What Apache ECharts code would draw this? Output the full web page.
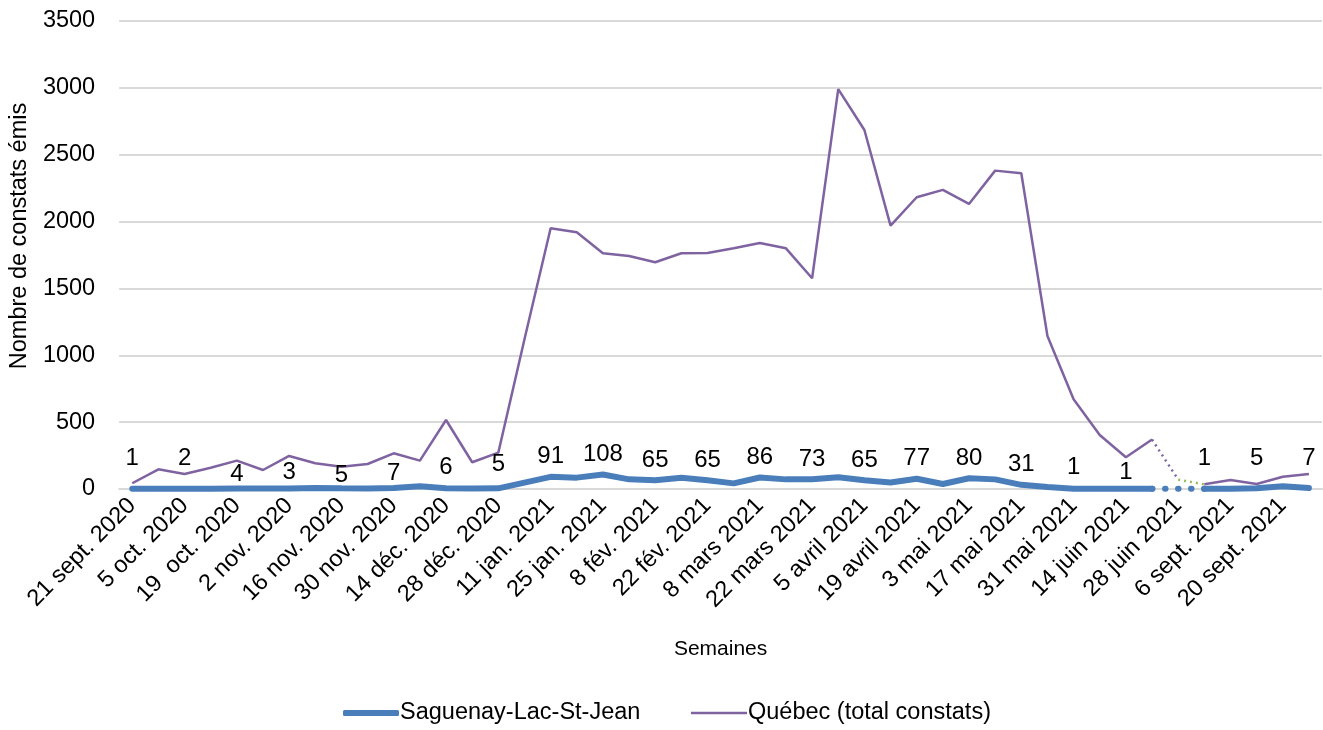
<!DOCTYPE html>
<html><head><meta charset="utf-8">
<script src="https://cdn.jsdelivr.net/npm/echarts@6/dist/echarts.min.js"></script>
<style>html,body{margin:0;padding:0;background:#fff}#c{width:1323px;height:730px}</style>
</head><body><div id="c"></div>
<script>
const weeks = ["21 sept. 2020","28 sept. 2020","5 oct. 2020","12 oct. 2020","19  oct. 2020","26 oct. 2020",
  "2 nov. 2020","9 nov. 2020","16 nov. 2020","23 nov. 2020","30 nov. 2020","7 déc. 2020","14 déc. 2020",
  "21 déc. 2020","28 déc. 2020","4 jan. 2021","11 jan. 2021","18 jan. 2021","25 jan. 2021","1 fév. 2021",
  "8 fév. 2021","15 fév. 2021","22 fév. 2021","1 mars 2021","8 mars 2021","15 mars 2021","22 mars 2021",
  "29 mars 2021","5 avril 2021","12 avril 2021","19 avril 2021","26 avril 2021","3 mai 2021","10 mai 2021",
  "17 mai 2021","24 mai 2021","31 mai 2021","7 juin 2021","14 juin 2021","21 juin 2021","28 juin 2021",
  "30 août 2021","6 sept. 2021","13 sept. 2021","20 sept. 2021","27 sept. 2021"];
const saguenay = [1,1,2,2,4,3,3,8,5,3,7,20,6,4,5,48,91,85,108,72,65,84,65,42,86,72,73,88,65,48,77,37,80,72,31,15,1,2,1,1,null,1,2,5,20,7];
const quebec = [43,147,112,159,212,142,247,192,167,187,267,212,516,200,272,1120,1950,1920,1763,1743,1696,1763,1765,1800,1840,1800,1576,2990,2685,1970,2182,2237,2132,2381,2361,1144,671,404,237,370,70,35,67,37,92,112];
const yTicks = {min:0, max:3500, interval:500};
const seriesNames = ["Saguenay-Lac-St-Jean","Québec (total constats)"];
const GAP = 40; // missing week (summer break)

// layout: which Saguenay points carry a value label, and how far above the point
const labeledIdx = new Set([0,2,4,6,8,10,12,14,16,18,20,22,24,26,28,30,32,34,36,38,41,43,45]);
const lowLabel = {4:1,6:3,8:0,10:2,12:8,14:11,36:8,38:3};
function labelDist(i, v){
  if (i in lowLabel) return lowLabel[i];
  return v < 20 ? 17 : 7;
}
const seg = (arr,a,b) => arr.map((v,i)=> (i===a||i===b) ? v : null);

const BLUE='#4a7ebb', PURPLE='#7f63a1', GREEN='#9bbb59';
const FONT='Liberation Sans, Arial, sans-serif';

const chart = echarts.init(document.getElementById('c'));
chart.setOption({
  animation:false,
  textStyle:{fontFamily:FONT},
  grid:{left:112,right:1,top:21,bottom:241,containLabel:false},
  legend:[
    {data:[{name:seriesNames[0],icon:'roundRect'}], left:338, bottom:0, itemWidth:56, itemHeight:6,
     itemStyle:{color:BLUE}, textStyle:{fontSize:23.5,color:'#000',fontFamily:FONT,padding:[0,0,0,-4]}},
    {data:[{name:seriesNames[1],icon:'rect'}], left:686, bottom:0, itemWidth:56, itemHeight:2.5,
     itemStyle:{color:PURPLE}, textStyle:{fontSize:23.5,color:'#000',fontFamily:FONT,padding:[0,0,0,-4]}}
  ],
  xAxis:{
    type:'category', data:weeks, boundaryGap:true,
    name:'Semaines', nameLocation:'middle', nameGap:150,
    nameTextStyle:{fontSize:21,color:'#000'},
    axisLine:{lineStyle:{color:'#d9d9d9',width:2}},
    axisTick:{show:false},
    axisLabel:{interval:1, rotate:45, fontSize:23.5, color:'#000', margin:13}
  },
  yAxis:{
    type:'value', min:yTicks.min, max:yTicks.max, interval:yTicks.interval,
    name:'Nombre de constats émis', nameLocation:'middle', nameGap:80,
    nameTextStyle:{fontSize:23.5,color:'#000',padding:[0,0,0,38]},
    axisLine:{show:false}, axisTick:{show:false},
    axisLabel:{fontSize:23.5,color:'#000',margin:24,formatter:v=>String(v)},
    splitLine:{lineStyle:{color:'#d9d9d9',width:2}}
  },
  series:[
    {name:seriesNames[0], type:'line', symbol:'circle', symbolSize:2, showAllSymbol:true, z:3,
     lineStyle:{color:BLUE,width:6,cap:'round'}, itemStyle:{color:BLUE},
     data:saguenay.map((v,i)=> v===null ? null : ({value:v,
        label:{show:labeledIdx.has(i), position:'top', distance:labelDist(i,v),
               fontSize:24, color:'#000', fontFamily:FONT}}))},
    {name:'sag-gap', type:'line', symbol:'none', connectNulls:true, z:3, silent:true,
     lineStyle:{color:BLUE,width:6,type:[0.5,12.5],cap:'round'},
     data:seg(saguenay,GAP-1,GAP+1)},
    {name:seriesNames[1], type:'line', symbol:'none', z:2,
     lineStyle:{color:PURPLE,width:2.5}, itemStyle:{color:PURPLE},
     data:quebec.map((v,i)=> i===GAP ? null : v)},
    {name:'qc-gap1', type:'line', symbol:'none', z:2, silent:true,
     lineStyle:{color:PURPLE,width:2.5,type:[2,4]},
     data:seg(quebec,GAP-1,GAP)},
    {name:'qc-gap2', type:'line', symbol:'none', z:2, silent:true,
     lineStyle:{color:GREEN,width:2.5,type:[2,4]},
     data:seg(quebec,GAP,GAP+1)}
  ]
});
</script></body></html>
